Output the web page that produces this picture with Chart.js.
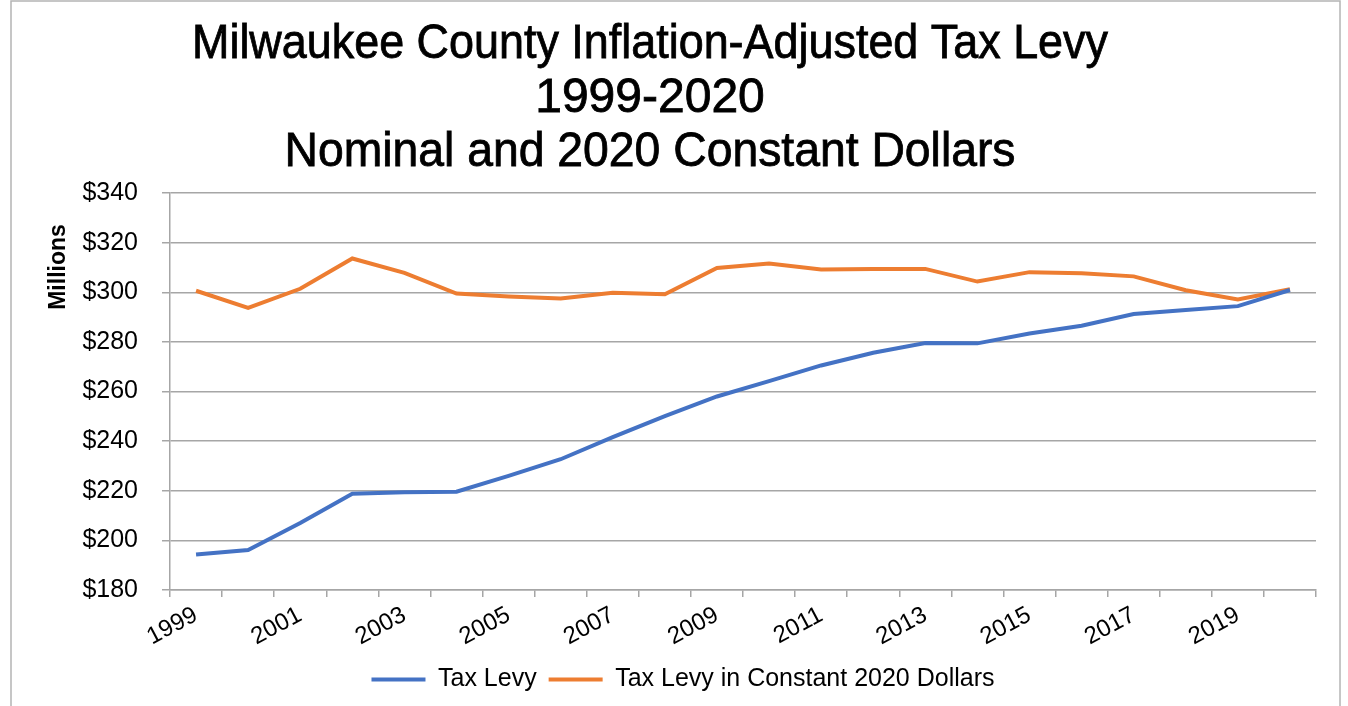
<!DOCTYPE html>
<html>
<head>
<meta charset="utf-8">
<script src="https://cdn.jsdelivr.net/npm/chart.js@4.4.1/dist/chart.umd.min.js"></script>
<style>
  html, body { margin: 0; padding: 0; background: #ffffff; }
  #wrap { position: relative; width: 1348px; height: 706px; }
</style>
</head>
<body>
<div id="wrap"><canvas id="c" width="1348" height="706"></canvas></div>
<script>
// ---- Data ----
const years = ['1999','2000','2001','2002','2003','2004','2005','2006','2007','2008','2009',
               '2010','2011','2012','2013','2014','2015','2016','2017','2018','2019','2020'];
const taxLevy = [194.3, 196.1, 207.0, 218.8, 219.4, 219.6, 226.0, 232.7, 241.6, 250.1, 258.0,
                 264.2, 270.5, 275.6, 279.5, 279.4, 283.4, 286.5, 291.2, 292.8, 294.4, 300.9];
const taxLevyConstant = [300.6, 293.7, 301.4, 313.6, 307.8, 299.5, 298.3, 297.5, 299.8, 299.2, 309.8,
                         311.6, 309.2, 309.4, 309.4, 304.3, 308.1, 307.7, 306.4, 300.8, 297.1, 301.2];
const seriesNames = ['Tax Levy', 'Tax Levy in Constant 2020 Dollars'];
const titleLines = ['Milwaukee County Inflation-Adjusted Tax Levy', '1999-2020', 'Nominal and 2020 Constant Dollars'];
const yAxisTitle = 'Millions';
const yMin = 180, yMax = 340, yStep = 20;

const BLUE = '#4472C4';
const ORANGE = '#ED7D31';
const GRID = '#a6a6a6';

const decorPlugin = {
  id: 'decor',
  beforeDraw(chart) {
    const ctx = chart.ctx;
    ctx.save();
    ctx.fillStyle = '#ffffff';
    ctx.fillRect(0, 0, chart.width, chart.height);
    ctx.strokeStyle = '#b4b4b4';
    ctx.lineWidth = 1.5;
    ctx.strokeRect(11, 1, 1329, 800);
    ctx.restore();
  },
  afterDraw(chart) {
    const ctx = chart.ctx;
    ctx.save();
    // Title
    ctx.fillStyle = '#000000';
    ctx.textAlign = 'center';
    ctx.textBaseline = 'alphabetic';
    ctx.font = '48px "Liberation Sans", Arial, sans-serif';
    const baselines = [58, 112, 166];
    const maxW = [916, 240, 731];
    titleLines.forEach((t, i) => {
      ctx.lineWidth = 0.8;
      ctx.strokeStyle = '#000000';
      ctx.fillText(t, 650, baselines[i], maxW[i]);
      ctx.strokeText(t, 650, baselines[i], maxW[i]);
    });
    // Y axis title
    ctx.translate(59, 267);
    ctx.rotate(-Math.PI / 2);
    ctx.font = 'bold 23px "Liberation Sans", Arial, sans-serif';
    ctx.textBaseline = 'middle';
    ctx.fillText(yAxisTitle, 0, 0);
    ctx.restore();
  }
};

new Chart(document.getElementById('c'), {
  type: 'line',
  data: {
    labels: years,
    datasets: [
      { label: seriesNames[0], data: taxLevy, borderColor: BLUE, backgroundColor: BLUE,
        borderWidth: 4, pointRadius: 0, tension: 0, fill: false },
      { label: seriesNames[1], data: taxLevyConstant, borderColor: ORANGE, backgroundColor: ORANGE,
        borderWidth: 4, pointRadius: 0, tension: 0, fill: false }
    ]
  },
  options: {
    responsive: false,
    animation: false,
    devicePixelRatio: 1,
    layout: { padding: { top: 193, left: 50, right: 32, bottom: 4 } },
    plugins: {
      title: { display: false },
      tooltip: { enabled: false },
      legend: {
        position: 'bottom',
        labels: {
          usePointStyle: true,
          pointStyle: 'line',
          pointStyleWidth: 54,
          boxHeight: 4,
          padding: 12,
          color: '#000000',
          font: { family: '"Liberation Sans", Arial, sans-serif', size: 25 }
        }
      }
    },
    scales: {
      x: {
        offset: true,
        grid: { display: true, offset: true, drawOnChartArea: false, drawTicks: true,
                tickLength: 7, color: GRID, lineWidth: 1.5 },
        border: { display: true, color: GRID, width: 1.5 },
        ticks: {
          autoSkip: false,
          minRotation: 28, maxRotation: 28,
          padding: 4,
          color: '#000000',
          font: { family: '"Liberation Sans", Arial, sans-serif', size: 24 },
          callback: function(v, i) { return i % 2 === 0 ? years[i] : ''; }
        },
        afterFit(scale) { scale.height = 65; }
      },
      y: {
        min: yMin, max: yMax,
        grid: { color: GRID, lineWidth: 1.5, tickLength: 8, drawTicks: true },
        border: { display: true, color: GRID, width: 1.5 },
        ticks: {
          stepSize: yStep,
          padding: 24,
          color: '#000000',
          font: { family: '"Liberation Sans", Arial, sans-serif', size: 25 },
          callback: v => '$' + v
        },
        afterFit(scale) { scale.width = 120; }
      }
    }
  },
  plugins: [decorPlugin]
});
</script>
</body>
</html>
